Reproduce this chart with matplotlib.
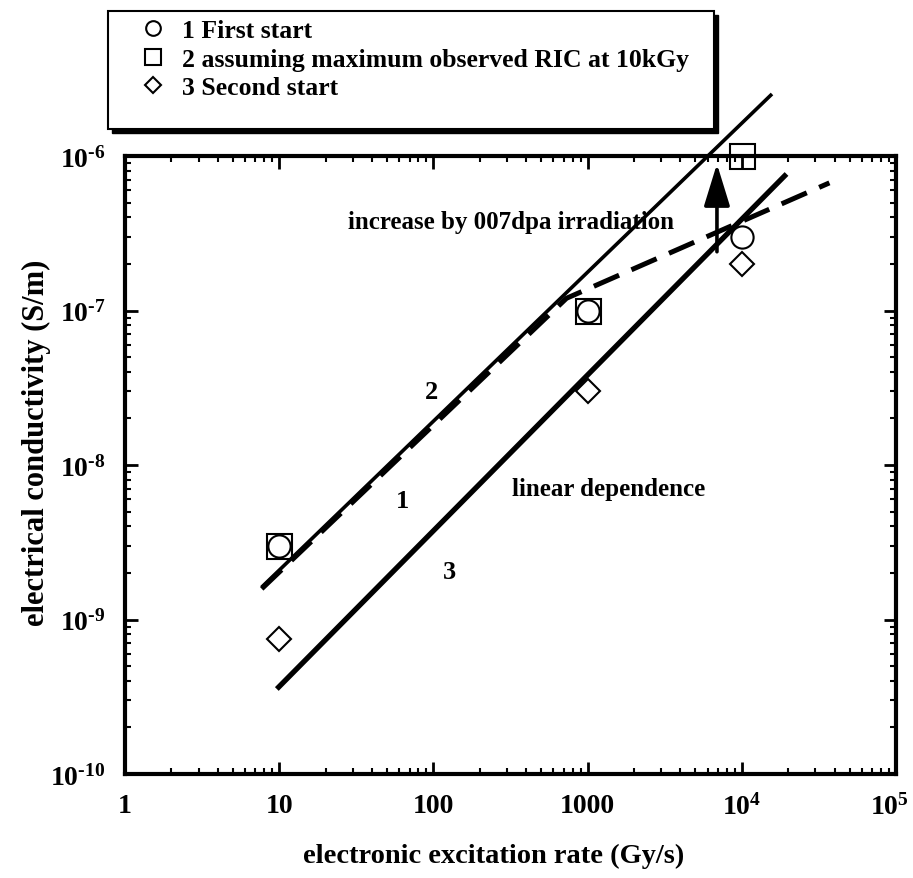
import matplotlib
matplotlib.use("Agg")
import matplotlib.pyplot as plt
import matplotlib.transforms as mtransforms
from matplotlib.patches import Rectangle
from matplotlib.ticker import FixedLocator, FixedFormatter, LogLocator, NullFormatter

plt.rcParams["font.family"] = "Liberation Serif"
plt.rcParams["font.weight"] = "bold"
plt.rcParams["axes.labelweight"] = "bold"
plt.rcParams["mathtext.fontset"] = "custom"
plt.rcParams["mathtext.rm"] = "Liberation Serif:bold"
plt.rcParams["mathtext.bf"] = "Liberation Serif:bold"
plt.rcParams["mathtext.default"] = "bf"

# measured points (Gy/s, S/m)
rate = [10, 1000, 1e4]
first_start = [3e-9, 1e-7, 3e-7]
max_ric = [3e-9, 1e-7, 1e-6]
second_start = [7.5e-10, 3e-8, 2e-7]

# drawn guide lines
line2_x = [7.7, 1.57e4]
line2_y = [1.62e-9, 2.52e-6]
line3_x = [9.65, 1.95e4]
line3_y = [3.55e-10, 7.65e-7]
dash_x = [7.7, 730, 3.7e4]
dash_y = [1.58e-9, 1.2e-7, 6.7e-7]
arrow_x = 6.9e3
arrow_y = [2.4e-7, 8.9e-7]

x_ticks = [1, 10, 100, 1000, 1e4, 1e5]
x_labels = ["1", "10", "100", "1000", r"$10^4$", r"$10^5$"]
y_ticks = [1e-10, 1e-9, 1e-8, 1e-7, 1e-6]
y_labels = [r"$10^{\text{-}10}$", r"$10^{\text{-}9}$", r"$10^{\text{-}8}$",
            r"$10^{\text{-}7}$", r"$10^{\text{-}6}$"]

fig = plt.figure(figsize=(9.13, 8.79), dpi=100)
ax = fig.add_axes([125 / 913, 1 - 775 / 879, 771 / 913, 618 / 879])
ax.set_xscale("log")
ax.set_yscale("log")
ax.set_xlim(1, 1e5)
ax.set_ylim(1e-10, 1e-6)

# lines
ax.plot(line2_x, line2_y, color="black", lw=2.6, solid_capstyle="butt", clip_on=False)
ax.plot(line3_x, line3_y, color="black", lw=3.8, solid_capstyle="butt", clip_on=False)
ax.plot(dash_x, dash_y, color="black", lw=3.6, dashes=(5.5, 2.7), dash_capstyle="butt")
ax.annotate("", xy=(arrow_x, arrow_y[1]), xytext=(arrow_x, arrow_y[0]),
            arrowprops=dict(arrowstyle="-|>,head_length=1.3,head_width=0.4",
                            mutation_scale=20, color="black", lw=2.6,
                            shrinkA=0, shrinkB=0))

# points
h1, = ax.plot(rate, first_start, "o", ms=16, mfc="white", mec="black", mew=1.5,
              label="1 First start", clip_on=False, zorder=5)
h2, = ax.plot(rate, max_ric, "s", ms=18, mfc="none", mec="black", mew=1.5,
              label="2 assuming maximum observed RIC at 10kGy", clip_on=False, zorder=4)
h3, = ax.plot(rate, second_start, "D", ms=12.5, mfc="white", mec="black", mew=1.5,
              label="3 Second start", clip_on=False, zorder=5)

# text annotations
ax.text(27.8, 3.74e-7, "increase by 007dpa irradiation", fontsize=18, va="center")
ax.text(97, 3.0e-8, "2", fontsize=19, ha="center", va="center")
ax.text(63, 5.85e-9, "1", fontsize=19, ha="center", va="center")
ax.text(127, 2.03e-9, "3", fontsize=19, ha="center", va="center")
ax.text(321, 7.0e-9, "linear dependence", fontsize=18, va="center")

# axes styling
for s in ax.spines.values():
    s.set_linewidth(3)
ax.xaxis.set_major_locator(FixedLocator(x_ticks))
ax.xaxis.set_major_formatter(FixedFormatter(x_labels))
ax.yaxis.set_major_locator(FixedLocator(y_ticks))
ax.yaxis.set_major_formatter(FixedFormatter(y_labels))
ax.xaxis.set_minor_locator(LogLocator(base=10, subs=range(2, 10), numticks=20))
ax.yaxis.set_minor_locator(LogLocator(base=10, subs=range(2, 10), numticks=20))
ax.xaxis.set_minor_formatter(NullFormatter())
ax.yaxis.set_minor_formatter(NullFormatter())
ax.tick_params(which="both", direction="in", top=True, right=True)
ax.tick_params(which="major", length=9, width=2, labelsize=20, pad=14)
ax.tick_params(which="minor", length=4.5, width=1.5)

ax.set_xlabel("electronic excitation rate (Gy/s)", fontsize=20.5)
ax.xaxis.set_label_coords(0.478, -0.112)
ax.set_ylabel("electrical conductivity (S/m)", fontsize=22)
ax.yaxis.set_label_coords(-0.096, 0.537)

# legend box with shadow
fig.patches.append(Rectangle((112 / 913, 1 - 134 / 879), 606 / 913, 118 / 879,
                             transform=fig.transFigure, facecolor="black",
                             edgecolor="black", zorder=1))
fig.patches.append(Rectangle((108 / 913, 1 - 130 / 879), 606 / 913, 118 / 879,
                             transform=fig.transFigure, facecolor="white",
                             edgecolor="black", lw=1.5, zorder=2))
fig.legend(handles=[h1, h2, h3], loc="upper left", bbox_to_anchor=(140 / 913, 1 - 20 / 879),
           frameon=False, fontsize=18.5, handlelength=1.0, handletextpad=0.63,
           borderpad=0, borderaxespad=0, labelspacing=0.22, markerscale=0.66)

# keep the last x tick label inside the figure
fig.canvas.draw()
last = ax.xaxis.get_majorticklabels()[-1]
last.set_transform(last.get_transform()
                   + mtransforms.ScaledTranslation(-7 / 100, 0, fig.dpi_scale_trans))

fig.savefig("out.png", dpi=100)
